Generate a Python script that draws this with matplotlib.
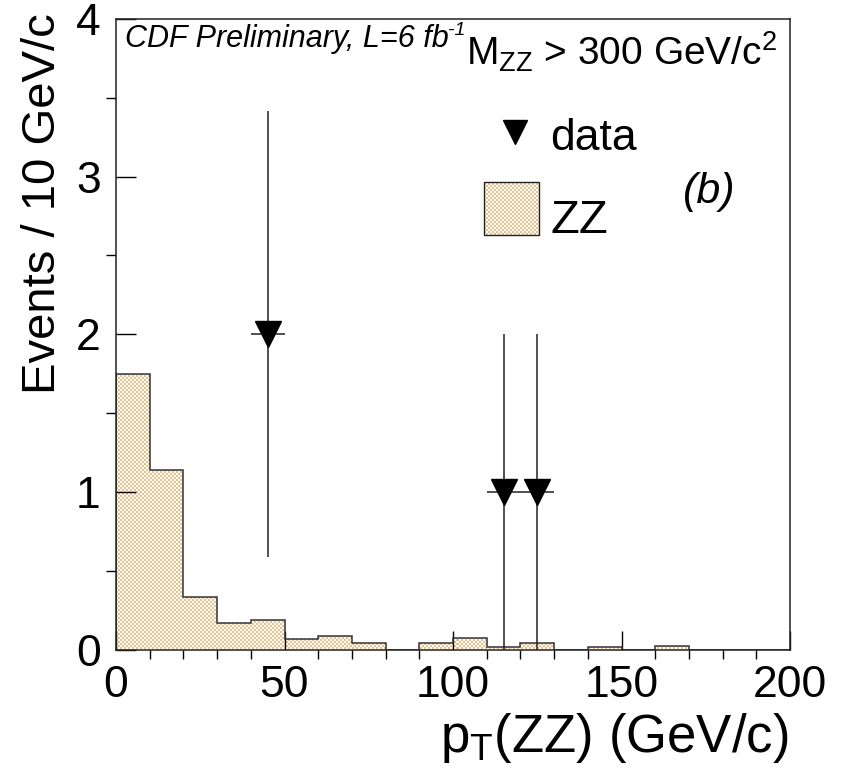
import numpy as np
import matplotlib
matplotlib.use("Agg")
import matplotlib.pyplot as plt
from matplotlib.patches import Polygon, Rectangle
from matplotlib.lines import Line2D

plt.rcParams["font.family"] = ["Liberation Sans", "DejaVu Sans"]
plt.rcParams["mathtext.fontset"] = "custom"
plt.rcParams["mathtext.rm"] = "Liberation Sans"
plt.rcParams["mathtext.it"] = "Liberation Sans:italic"
plt.rcParams["mathtext.bf"] = "Liberation Sans:bold"

# ---- data -------------------------------------------------------------
bin_edges = np.arange(0, 210, 10)                      # pT(ZZ) bins, GeV/c
zz_expected = [1.75, 1.14, 0.335, 0.17, 0.185, 0.065, 0.086, 0.042, 0.0, 0.044,
               0.07, 0.013, 0.044, 0.0, 0.013, 0.0, 0.025, 0.0, 0.0, 0.0]
data_pt = [45, 115, 125]
data_counts = [2, 1, 1]
data_xerr = [5, 5, 5]
data_yerr = np.sqrt(data_counts)

x_ticks = [0, 50, 100, 150, 200]
y_ticks = [0, 1, 2, 3, 4]

TAN = np.array([231, 192, 138]) / 255.0
EDGE = "#333333"

W, H, DPI = 846, 778, 100
fig = plt.figure(figsize=(W / DPI, H / DPI), dpi=DPI)

def px(x, y):
    """figure fraction from pixel position measured from top-left"""
    return x / W, 1 - y / H

ax_l, ax_r, ax_t, ax_b = 116, 790, 19, 649.5
ax = fig.add_axes([ax_l / W, 1 - ax_b / H, (ax_r - ax_l) / W, (ax_b - ax_t) / H])
ax.set_xlim(0, 200)
ax.set_ylim(0, 4)

# checkerboard fill pattern covering the whole frame (2 px cells)
nx = int(round((ax_r - ax_l) / 2))
ny = int(round((ax_b - ax_t) / 2))
ii, jj = np.meshgrid(np.arange(nx), np.arange(ny))
checker = ((ii + jj) % 2 == 0)
img = np.ones((ny, nx, 3))
img[checker] = TAN

def checker_fill(clip_patch):
    im = ax.imshow(img, extent=(0, 200, 0, 4), origin="lower", aspect="auto",
                   interpolation="nearest", zorder=1)
    im.set_clip_path(clip_patch)

# ZZ expectation histogram
verts = [(bin_edges[0], 0)]
for lo, hi, h in zip(bin_edges[:-1], bin_edges[1:], zz_expected):
    verts += [(lo, h), (hi, h)]
verts += [(bin_edges[-1], 0)]
hist_poly = Polygon(verts, closed=True, facecolor="none", edgecolor="none")
ax.add_patch(hist_poly)
checker_fill(hist_poly)
ax.stairs(zz_expected, bin_edges, color=EDGE, linewidth=1.1, zorder=2)

# data points
ax.errorbar(data_pt, data_counts, xerr=data_xerr, yerr=data_yerr, fmt="none",
            ecolor="#222222", elinewidth=1.1, capsize=0, zorder=3)
ax.plot(data_pt, data_counts, linestyle="none", marker="v", markersize=19,
        color="black", zorder=4)

# axes styling
ax.set_xticks(x_ticks)
ax.set_xticklabels([str(v) for v in x_ticks])
ax.set_yticks(y_ticks)
ax.set_yticklabels([str(v) for v in y_ticks])
ax.set_xticks(np.arange(0, 201, 10), minor=True)
ax.set_yticks(np.arange(0, 4.01, 0.5), minor=True)
ax.tick_params(axis="both", direction="in", labelsize=32, colors="black",
               top=False, right=False)
ax.tick_params(axis="x", which="major", length=13.5, width=1.0, pad=11)
ax.tick_params(axis="x", which="minor", length=6.8, width=1.0)
ax.tick_params(axis="y", which="major", length=14.4, width=1.0, pad=11)
ax.tick_params(axis="y", which="minor", length=7.2, width=1.0)
for s in ax.spines.values():
    s.set_linewidth(1.1)
    s.set_color("#222222")
    s.set_zorder(5)

# axis titles
fig.text(*px(55, 13), "Events / 10 GeV/c", fontsize=34, rotation=90,
         rotation_mode="anchor", ha="right", va="baseline")
fig.text(*px(788, 752), r"p$_{\rm T}$(ZZ) (GeV/c)", fontsize=38,
         ha="right", va="baseline")

# annotations
cdf = fig.text(*px(125, 47), "CDF Preliminary, L=6 fb", fontsize=22,
               style="italic", ha="left", va="baseline")
fig.canvas.draw()
bb = cdf.get_window_extent()
sup = fig.text(bb.x1 / W - 0.001, 1 - 35 / H, "-1", fontsize=14,
               style="italic", ha="left", va="baseline")
fig.canvas.draw()
sb = sup.get_window_extent()
m_left = max(sb.x1 + 1, 453)
fig.text(m_left / W, 1 - 66 / H, r"M$_{\rm ZZ}$ > 300 GeV/c$^{\rm 2}$",
         fontsize=28, ha="left", va="baseline")

# legend
fig.add_artist(Line2D([515 / W], [1 - 132 / H], marker="v", markersize=17,
                      color="black", linestyle="none"))
fig.text(*px(550, 150), "data", fontsize=32, ha="left", va="baseline")
box_x0 = (484 - ax_l) / (ax_r - ax_l) * 200
box_x1 = (539 - ax_l) / (ax_r - ax_l) * 200
box_y0 = (ax_b - 235) / (ax_b - ax_t) * 4
box_y1 = (ax_b - 182) / (ax_b - ax_t) * 4
box = Rectangle((box_x0, box_y0), box_x1 - box_x0, box_y1 - box_y0,
                facecolor="none", edgecolor="none")
ax.add_patch(box)
checker_fill(box)
ax.add_patch(Rectangle((box_x0, box_y0), box_x1 - box_x0, box_y1 - box_y0,
                       facecolor="none", edgecolor="#222222", linewidth=1.0,
                       zorder=3))
fig.text(*px(550, 233), "ZZ", fontsize=34, ha="left", va="baseline")
fig.text(*px(683, 203), "(b)", fontsize=31, style="italic", ha="left",
         va="baseline")

ax.set_xlim(0, 200)
ax.set_ylim(0, 4)
fig.savefig("out.png", dpi=DPI)
